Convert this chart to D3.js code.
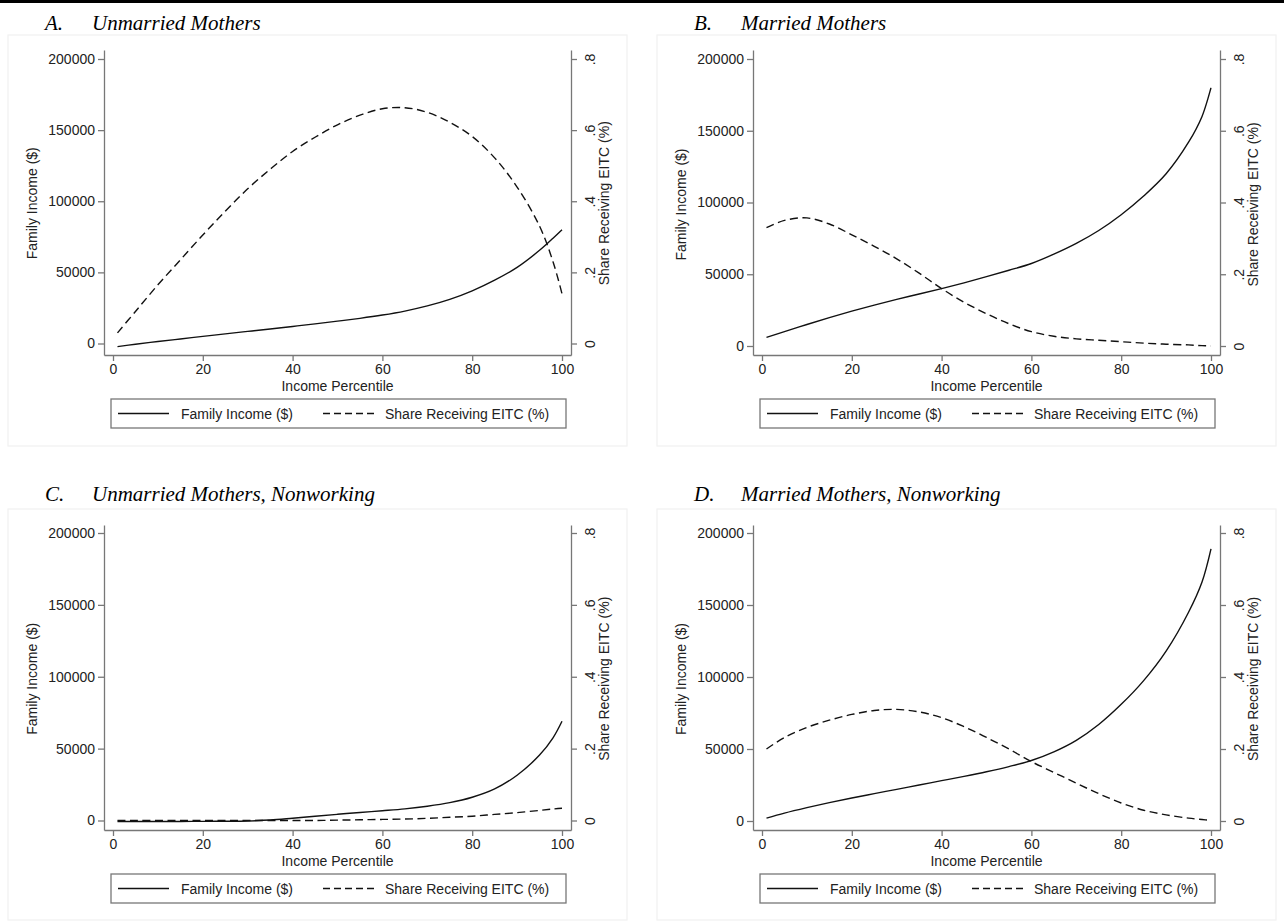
<!DOCTYPE html>
<html>
<head>
<meta charset="utf-8">
<script src="https://cdn.jsdelivr.net/npm/d3@7"></script>
<style>
  body { margin: 0; background: #fff; }
  svg { display: block; }
  .tick text { font-family: "Liberation Sans", Arial, Helvetica, sans-serif; font-size: 14px; fill: #222; }
  .axis path, .axis line { stroke: #777; stroke-width: 1.3; }
  .lbl { font-family: "Liberation Sans", Arial, Helvetica, sans-serif; font-size: 14px; fill: #222; }
  .ttl { font-family: "Liberation Serif", "Times New Roman", serif; font-style: italic; font-size: 21px; fill: #000; }
</style>
</head>
<body>
<div id="chart"></div>
<script>
// percentiles sampled along each curve
const percentiles = [1, 5, 10, 15, 20, 25, 30, 35, 40, 45, 50, 55, 60, 65, 70, 75, 80, 85, 90, 95, 98, 100];

// A. unmarried mothers
const unmarriedIncome = [-2200, -500, 1400, 3200, 5000, 6800, 8500, 10200, 12000, 13800, 15700, 17700, 20000, 22800, 26400, 31000, 37000, 44500, 53500, 65500, 74000, 80000];
const unmarriedEitc = [0.03, 0.09, 0.165, 0.235, 0.305, 0.372, 0.435, 0.49, 0.54, 0.58, 0.615, 0.642, 0.66, 0.663, 0.65, 0.622, 0.582, 0.522, 0.44, 0.33, 0.23, 0.14];

// B. married mothers
const marriedIncome = [6000, 10000, 15000, 19800, 24300, 28500, 32500, 36200, 40000, 44000, 48300, 52800, 57500, 64000, 71500, 80500, 91500, 104500, 120000, 142000, 160000, 180000];
const marriedEitc = [0.33, 0.35, 0.357, 0.34, 0.31, 0.278, 0.243, 0.203, 0.16, 0.122, 0.09, 0.062, 0.04, 0.027, 0.02, 0.016, 0.012, 0.008, 0.005, 0.003, 0.001, 0];

// C. unmarried mothers, nonworking
const unmarriedNwIncome = [-700, -700, -700, -650, -600, -500, -300, 300, 1600, 3000, 4300, 5600, 6800, 8100, 9900, 12400, 16200, 22000, 31500, 45500, 57500, 69000];
const unmarriedNwEitc = [0, 0, 0, 0, 0, 0, 0, 0, 0, 0, 0.001, 0.002, 0.003, 0.004, 0.006, 0.009, 0.012, 0.017, 0.022, 0.028, 0.032, 0.034];

// D. married mothers, nonworking
const marriedNwIncome = [2000, 5500, 9300, 12800, 16000, 19000, 22000, 25000, 28000, 31000, 34200, 37800, 42000, 48000, 56000, 67000, 81000, 97500, 118000, 145000, 166000, 189000];
const marriedNwEitc = [0.2, 0.232, 0.26, 0.28, 0.296, 0.307, 0.31, 0.303, 0.287, 0.262, 0.232, 0.2, 0.165, 0.135, 0.105, 0.076, 0.05, 0.03, 0.017, 0.008, 0.004, 0.002];

const xTicks = [0, 20, 40, 60, 80, 100];
const incomeTicks = [0, 50000, 100000, 150000, 200000];
const shareTicks = [0, 0.2, 0.4, 0.6, 0.8];

const panels = [
    { letter: 'A.', title: 'Unmarried Mothers', income: unmarriedIncome, eitc: unmarriedEitc, ox: 0, x0: 113, yTop: 59, y0: 343.5, axTop: 50, axBot: 355, titleY: 30, bg: [8, 35] },
    { letter: 'B.', title: 'Married Mothers', income: marriedIncome, eitc: marriedEitc, ox: 649, x0: 762, yTop: 59, y0: 346, axTop: 50, axBot: 355, titleY: 30, bg: [657, 35] },
    { letter: 'C.', title: 'Unmarried Mothers, Nonworking', income: unmarriedNwIncome, eitc: unmarriedNwEitc, ox: 0, x0: 113, yTop: 533, y0: 820.5, axTop: 525, axBot: 830, titleY: 501, bg: [8, 509] },
    { letter: 'D.', title: 'Married Mothers, Nonworking', income: marriedNwIncome, eitc: marriedNwEitc, ox: 649, x0: 762, yTop: 533, y0: 821, axTop: 525, axBot: 830, titleY: 501, bg: [657, 509] }
];

const W = 1284, H = 921;
const svg = d3.select('#chart').append('svg').attr('width', W).attr('height', H);

svg.append('rect').attr('x', 0).attr('y', 0).attr('width', W).attr('height', 3).attr('fill', '#000');

function shareFmt(d) {
    return d === 0 ? '0' : d3.format('.1f')(d).replace(/^0/, '');
}

function drawPanel(p) {
    const left = p.x0 - 9, right = p.x0 + 458;

    // faint panel region
    svg.append('rect')
        .attr('x', p.bg[0]).attr('y', p.bg[1])
        .attr('width', 619).attr('height', 411)
        .attr('fill', '#fff').attr('stroke', '#f1f1f1').attr('stroke-width', 1.2);

    svg.append('text').attr('class', 'ttl').attr('x', p.ox + 45).attr('y', p.titleY).text(p.letter);
    svg.append('text').attr('class', 'ttl').attr('x', p.ox + 92).attr('y', p.titleY).text(p.title);

    const x = d3.scaleLinear().domain([0, 100]).range([p.x0, p.x0 + 449]);
    const yInc = d3.scaleLinear().domain([0, 200000]).range([p.y0, p.yTop]);
    const yShare = d3.scaleLinear().domain([0, 0.8]).range([p.y0, p.yTop]);

    // copies spanning the full frame so the axis line runs past the end ticks
    const xAx = x.copy().domain([x.invert(left), x.invert(right)]).range([left, right]);
    const yIncAx = yInc.copy().domain([yInc.invert(p.axBot), yInc.invert(p.axTop)]).range([p.axBot, p.axTop]);
    const yShareAx = yShare.copy().domain([yShare.invert(p.axBot), yShare.invert(p.axTop)]).range([p.axBot, p.axTop]);

    svg.append('g').attr('class', 'axis')
        .attr('transform', `translate(0,${p.axBot})`)
        .call(d3.axisBottom(xAx).tickValues(xTicks).tickSize(6).tickSizeOuter(0).tickPadding(3));

    svg.append('g').attr('class', 'axis')
        .attr('transform', `translate(${left},0)`)
        .call(d3.axisLeft(yIncAx).tickValues(incomeTicks).tickFormat(d3.format('d')).tickSize(6).tickSizeOuter(0).tickPadding(3));

    const ra = svg.append('g').attr('class', 'axis')
        .attr('transform', `translate(${right},0)`)
        .call(d3.axisRight(yShareAx).tickValues(shareTicks).tickFormat(shareFmt).tickSize(6).tickSizeOuter(0).tickPadding(3));
    ra.selectAll('.tick text')
        .attr('x', 0).attr('dy', null)
        .attr('text-anchor', 'middle')
        .attr('dominant-baseline', 'central')
        .attr('transform', 'translate(19,0) rotate(-90)');

    const midY = (p.y0 + p.yTop) / 2 + 2;
    svg.append('text').attr('class', 'lbl')
        .attr('transform', `translate(${left - 72},${midY}) rotate(-90)`)
        .attr('text-anchor', 'middle').attr('dominant-baseline', 'central')
        .text('Family Income ($)');
    svg.append('text').attr('class', 'lbl')
        .attr('transform', `translate(${right + 33},${midY}) rotate(-90)`)
        .attr('text-anchor', 'middle').attr('dominant-baseline', 'central')
        .text('Share Receiving EITC (%)');
    svg.append('text').attr('class', 'lbl')
        .attr('x', (left + right) / 2).attr('y', p.axBot + 36)
        .attr('text-anchor', 'middle')
        .text('Income Percentile');

    const pts = percentiles.map((pc, i) => ({ pc, inc: p.income[i], sh: p.eitc[i] }));
    const curve = d3.curveCatmullRom.alpha(0.5);

    svg.append('path').datum(pts)
        .attr('fill', 'none').attr('stroke', '#111').attr('stroke-width', 1.4)
        .attr('d', d3.line().curve(curve).x(d => x(d.pc)).y(d => yInc(d.inc)));

    svg.append('path').datum(pts)
        .attr('fill', 'none').attr('stroke', '#111').attr('stroke-width', 1.4)
        .attr('stroke-dasharray', '8,4.5')
        .attr('d', d3.line().curve(curve).x(d => x(d.pc)).y(d => yShare(d.sh)));

    // legend
    const lx = left + 7, ly = p.axBot + 44;
    const lg = svg.append('g').attr('transform', `translate(${lx},${ly})`);
    lg.append('rect').attr('width', 455).attr('height', 29)
        .attr('fill', '#fff').attr('stroke', '#777').attr('stroke-width', 1.3);
    lg.append('line').attr('x1', 7).attr('x2', 58).attr('y1', 14.5).attr('y2', 14.5)
        .attr('stroke', '#111').attr('stroke-width', 1.4);
    lg.append('text').attr('class', 'lbl').attr('x', 70).attr('y', 14.5)
        .attr('dominant-baseline', 'central').text('Family Income ($)');
    lg.append('line').attr('x1', 212).attr('x2', 264).attr('y1', 14.5).attr('y2', 14.5)
        .attr('stroke', '#111').attr('stroke-width', 1.4).attr('stroke-dasharray', '7,4');
    lg.append('text').attr('class', 'lbl').attr('x', 274).attr('y', 14.5)
        .attr('dominant-baseline', 'central').text('Share Receiving EITC (%)');
}

panels.forEach(drawPanel);
</script>
</body>
</html>
